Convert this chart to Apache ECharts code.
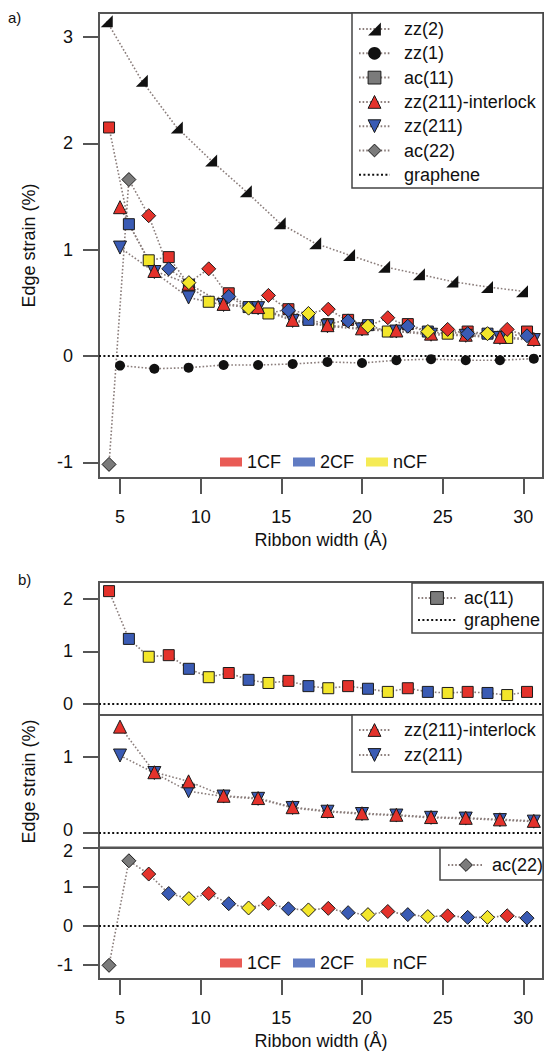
<!DOCTYPE html>
<html><head><meta charset="utf-8">
<script src="https://cdn.jsdelivr.net/npm/echarts@6/dist/echarts.min.js"></script>
<style>html,body{margin:0;padding:0;background:#fff}#c{width:544px;height:1051px}</style>
</head><body><div id="c"></div>
<script>
// ---------------- data ----------------
const acWidths = [4.32, 5.55, 6.78, 8.02, 9.27, 10.5, 11.74, 12.97, 14.2, 15.44, 16.68, 17.91, 19.14, 20.37, 21.6, 22.84, 24.08, 25.31, 26.55, 27.78, 29.0, 30.23];
const zzWidths = [5.0, 7.13, 9.25, 11.42, 13.56, 15.7, 17.86, 20.0, 22.13, 24.28, 26.43, 28.55, 30.65];
const zz2Widths = [4.18, 6.35, 8.52, 10.65, 12.8, 14.9, 17.1, 19.2, 21.37, 23.53, 25.6, 27.75, 29.92];

const zz2Strain = [3.15, 2.59, 2.15, 1.84, 1.55, 1.25, 1.06, 0.95, 0.84, 0.77, 0.70, 0.65, 0.61];
const zz1Strain = [-0.09, -0.12, -0.11, -0.085, -0.085, -0.075, -0.056, -0.066, -0.04, -0.03, -0.04, -0.04, -0.025];
const ac11Strain = [2.15, 1.24, 0.90, 0.93, 0.67, 0.51, 0.59, 0.46, 0.40, 0.44, 0.34, 0.30, 0.34, 0.29, 0.23, 0.30, 0.23, 0.21, 0.23, 0.21, 0.17, 0.23];
const ac11Class = ['1CF','2CF','nCF','1CF','2CF','nCF','1CF','2CF','nCF','1CF','2CF','nCF','1CF','2CF','nCF','1CF','2CF','nCF','1CF','2CF','nCF','1CF'];
const zz211InterlockStrain = [1.40, 0.80, 0.68, 0.49, 0.46, 0.34, 0.29, 0.26, 0.24, 0.21, 0.20, 0.18, 0.16];
const zz211Strain = [1.02, 0.79, 0.55, 0.48, 0.45, 0.33, 0.28, 0.25, 0.23, 0.20, 0.19, 0.17, 0.15];
const ac22Strain = [-1.02, 1.66, 1.32, 0.82, 0.69, 0.82, 0.56, 0.45, 0.57, 0.43, 0.40, 0.44, 0.33, 0.28, 0.36, 0.28, 0.23, 0.25, 0.21, 0.21, 0.25, 0.19];
const ac22Class = ['bare','bare','1CF','2CF','nCF','1CF','2CF','nCF','1CF','2CF','nCF','1CF','2CF','nCF','1CF','2CF','nCF','1CF','2CF','nCF','1CF','2CF'];
const grapheneStrain = 0;

const cfClasses = ['1CF', '2CF', 'nCF'];
const seriesNamesA = ['zz(2)', 'zz(1)', 'ac(11)', 'zz(211)-interlock', 'zz(211)', 'ac(22)', 'graphene'];
const xTicks = [5, 10, 15, 20, 25, 30];
const yTicksA = [-1, 0, 1, 2, 3];
const yTicksB1 = [0, 1, 2];
const yTicksB2 = [0, 1];
const yTicksB3 = [-1, 0, 1, 2];
const xTitle = 'Ribbon width (Å)';
const yTitle = 'Edge strain (%)';

// ---------------- style ----------------
const FONT = "'Liberation Sans', Arial, Helvetica, sans-serif";
const RED = '#e4322b', BLUE = '#3a5bb4', YELLOW = '#f3e62a', GREY = '#7b7b7b', BLACK = '#111';
const cfColor = { '1CF': RED, '2CF': BLUE, 'nCF': YELLOW, 'bare': GREY };
const AX = '#555';
const LINK = { color: '#8a7d7b', width: 1.6, type: [1.6, 2] };
const GRAPHENE_LINE = { color: BLACK, width: 2.2, type: [2, 2.4] };
const X_MIN = 3.698, X_MAX = 31.22;

function pts(xs, ys, cls) {
  return xs.map((x, i) => {
    const d = { value: [x, ys[i]] };
    if (cls) d.itemStyle = { color: cfColor[cls[i]] };
    return d;
  });
}

const grids = [
  { left: 99, top: 13, width: 444, height: 465 },
  { left: 99, top: 582, width: 444, height: 133 },
  { left: 99, top: 715, width: 444, height: 133 },
  { left: 99, top: 847.5, width: 444, height: 134.5 }
].map(g => Object.assign(g, { show: true, borderColor: AX, borderWidth: 2, backgroundColor: 'transparent' }));

const yRanges = [[-1.148, 3.227], [-0.21, 2.324], [-0.197, 1.553], [-1.37, 2.0]];
const yTicks = [yTicksA, yTicksB1, yTicksB2, yTicksB3];

const labelStyle = { fontSize: 18, color: BLACK, fontFamily: FONT };
const richNudge = {
  up: { fontSize: 18, color: BLACK, fontFamily: FONT, padding: [0, 0, 6, 0] },
  dn: { fontSize: 18, color: BLACK, fontFamily: FONT, padding: [6, 0, 0, 0] }
};
// labels where the stacked panels meet sit very close together; nudge them apart slightly
const yFormatters = [
  null,
  null,
  v => (v === 0 ? '{up|' + v + '}' : String(v)),
  v => (v === 2 ? '{dn|' + v + '}' : String(v))
];

const xAxes = grids.map((g, i) => {
  const full = (i === 0 || i === 3);
  return {
    gridIndex: i, type: 'value', min: X_MIN, max: X_MAX, position: 'bottom',
    axisLine: { show: full, onZero: false, lineStyle: { color: AX, width: 2 } },
    axisTick: { show: full, customValues: xTicks, length: 16, lineStyle: { color: AX, width: 2 } },
    axisLabel: Object.assign({ show: full, customValues: xTicks, margin: 30 }, labelStyle),
    splitLine: { show: false },
    name: full ? xTitle : '', nameLocation: 'middle', nameGap: 53,
    nameTextStyle: labelStyle
  };
});

const yAxes = grids.map((g, i) => {
  const lab = Object.assign({ customValues: yTicks[i], margin: 26, lineHeight: 14 }, labelStyle);
  if (yFormatters[i]) { lab.formatter = yFormatters[i]; lab.rich = richNudge; }
  return {
    gridIndex: i, type: 'value', min: yRanges[i][0], max: yRanges[i][1], position: 'left',
    axisLine: { show: true, onZero: false, lineStyle: { color: AX, width: 2 } },
    axisTick: { show: true, customValues: yTicks[i], length: 16, lineStyle: { color: AX, width: 2 } },
    axisLabel: lab,
    splitLine: { show: false },
    name: (i === 0 || i === 2) ? yTitle : '', nameLocation: 'middle', nameGap: 61,
    nameTextStyle: labelStyle
  };
});

const BORDER = { borderColor: '#1a1a1a', borderWidth: 1 };

function graphene(g) {
  return {
    name: 'graphene', type: 'line', xAxisIndex: g, yAxisIndex: g, data: [],
    symbol: 'none', itemStyle: { color: BLACK, opacity: 0 }, lineStyle: GRAPHENE_LINE, z: 1,
    markLine: { silent: true, symbol: 'none', label: { show: false }, lineStyle: GRAPHENE_LINE,
      emphasis: { disabled: true }, data: [{ yAxis: grapheneStrain }] }
  };
}
function lineSeries(name, g, xs, ys, cls, symbol, size, color, border) {
  return {
    name, type: 'line', xAxisIndex: g, yAxisIndex: g,
    data: pts(xs, ys, cls), symbol, symbolSize: size, showAllSymbol: true,
    lineStyle: LINK, itemStyle: Object.assign({ color, opacity: 1 }, border ? BORDER : {}),
    emphasis: { disabled: true }
  };
}
const ZZ2_SYMBOL = 'path://M10,0 L10,10 L0,10 Z';
const DOWN_TRI = 'path://M0,0 L10,0 L5,10 Z';

const series = [
  graphene(0),
  lineSeries('zz(2)', 0, zz2Widths, zz2Strain, null, ZZ2_SYMBOL, 12, BLACK, false),
  lineSeries('zz(1)', 0, zzWidths, zz1Strain, null, 'circle', 10, BLACK, false),
  lineSeries('ac(11)', 0, acWidths, ac11Strain, ac11Class, 'rect', 11, GREY, true),
  lineSeries('zz(211)', 0, zzWidths, zz211Strain, null, DOWN_TRI, 13, BLUE, true),
  lineSeries('zz(211)-interlock', 0, zzWidths, zz211InterlockStrain, null, 'triangle', 13, RED, true),
  lineSeries('ac(22)', 0, acWidths, ac22Strain, ac22Class, 'diamond', 14, GREY, true),
  // panel b
  graphene(1),
  lineSeries('ac(11)', 1, acWidths, ac11Strain, ac11Class, 'rect', 11, GREY, true),
  graphene(2),
  lineSeries('zz(211)', 2, zzWidths, zz211Strain, null, DOWN_TRI, 13, BLUE, true),
  lineSeries('zz(211)-interlock', 2, zzWidths, zz211InterlockStrain, null, 'triangle', 13, RED, true),
  graphene(3),
  lineSeries('ac(22)', 3, acWidths, ac22Strain, ac22Class, 'diamond', 14, GREY, true)
];
cfClasses.forEach(c => series.push({ name: c, type: 'scatter', xAxisIndex: 0, yAxisIndex: 0, data: [], itemStyle: { color: cfColor[c] } }));

const legText = (pad) => ({ fontSize: 18, lineHeight: 20, color: BLACK, fontFamily: FONT, padding: [0, 0, 0, pad] });
const legBase = { padding: 0, selectedMode: false, itemStyle: { borderWidth: 1 } };
const legends = [
  Object.assign({ orient: 'vertical', left: 358, top: 19, itemWidth: 31, itemHeight: 16, itemGap: 4.3,
    data: seriesNamesA, textStyle: legText(9) }, legBase),
  Object.assign({ orient: 'vertical', left: 417, top: 588, itemWidth: 38, itemHeight: 16, itemGap: 2,
    data: ['ac(11)', 'graphene'], textStyle: legText(3) }, legBase),
  Object.assign({ orient: 'vertical', left: 358, top: 720, itemWidth: 31, itemHeight: 16, itemGap: 5,
    data: ['zz(211)-interlock', 'zz(211)'], textStyle: legText(9) }, legBase),
  Object.assign({ orient: 'vertical', left: 447, top: 855, itemWidth: 36, itemHeight: 16, itemGap: 5,
    data: ['ac(22)'], textStyle: legText(3) }, legBase),
  { orient: 'horizontal', left: 220, top: 452, padding: 0, itemWidth: 22, itemHeight: 9, itemGap: 12, icon: 'rect',
    data: cfClasses, textStyle: legText(0), selectedMode: false },
  { orient: 'horizontal', left: 220, top: 953, padding: 0, itemWidth: 22, itemHeight: 9, itemGap: 12, icon: 'rect',
    data: cfClasses, textStyle: legText(0), selectedMode: false }
];

const boxStyle = { fill: '#fff', stroke: '#444', lineWidth: 1.5 };
const graphic = [
  { type: 'text', left: 8, top: 10, style: { text: 'a)', fontSize: 15, fill: BLACK, fontFamily: FONT } },
  { type: 'text', left: 18, top: 572, style: { text: 'b)', fontSize: 15, fill: BLACK, fontFamily: FONT } },
  { type: 'rect', z: 3, shape: { x: 352, y: 13, width: 191, height: 175 }, style: boxStyle },
  { type: 'rect', z: 3, shape: { x: 412, y: 583, width: 131, height: 50 }, style: boxStyle },
  { type: 'rect', z: 3, shape: { x: 352, y: 715, width: 191, height: 57 }, style: boxStyle },
  { type: 'rect', z: 3, shape: { x: 440, y: 848, width: 103, height: 32 }, style: boxStyle }
];

const chart = echarts.init(document.getElementById('c'), null, { renderer: 'svg', width: 544, height: 1051 });
chart.setOption({
  animation: false,
  backgroundColor: '#fff',
  grid: grids, xAxis: xAxes, yAxis: yAxes,
  legend: legends, graphic, series
});
</script></body></html>
